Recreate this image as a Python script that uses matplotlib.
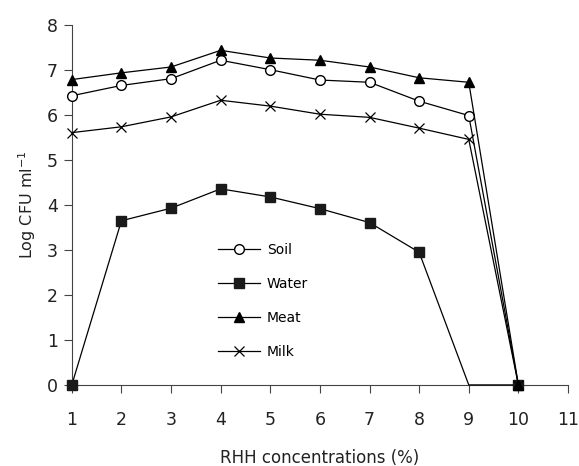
import matplotlib.pyplot as plt

x = [1, 2, 3, 4, 5, 6, 7, 8, 9, 10]
soil = [6.43, 6.66, 6.81, 7.22, 7.01, 6.78, 6.73, 6.31, 5.99, 0]
water = [0, 3.65, 3.93, 4.36, 4.18, 3.92, 3.61, 2.95, 0, 0]
meat = [6.79, 6.94, 7.07, 7.44, 7.27, 7.22, 7.07, 6.83, 6.73, 0]
milk = [5.61, 5.74, 5.96, 6.33, 6.20, 6.02, 5.95, 5.71, 5.46, 0]

plt.rcParams['font.family'] = 'DejaVu Sans'
fig = plt.figure(figsize=(5.79, 4.66), dpi=100)
ax = fig.add_axes([0.124, 0.174, 0.857, 0.772])

lw = 0.9
ax.plot(x, soil, color='black', lw=lw, marker='o', ms=7, mfc='white', mec='black', mew=1, label='Soil', clip_on=False, zorder=3)
ax.plot(x, water, color='black', lw=lw, marker='s', ms=6.5, mfc='#1a1a1a', mec='#1a1a1a', markevery=[0, 1, 2, 3, 4, 5, 6, 7, 9], label='Water', clip_on=False, zorder=3)
ax.plot(x, meat, color='black', lw=lw, marker='^', ms=7.5, mfc='black', mec='black', label='Meat', clip_on=False, zorder=3)
ax.plot(x, milk, color='black', lw=lw, marker='x', ms=7.5, mew=0.9, label='Milk', clip_on=False, zorder=3)

ax.set_xlim(1, 11)
ax.set_ylim(0, 8)
ax.set_xticks(range(1, 12))
ax.set_yticks(range(0, 9))
ax.spines['top'].set_visible(False)
ax.spines['right'].set_visible(False)
ax.spines['left'].set_color('#444444')
ax.spines['bottom'].set_color('#444444')
ax.tick_params(axis='both', direction='out', length=6, color='#444444', labelsize=12.5, labelcolor='#222222')
ax.tick_params(axis='x', pad=13)
ax.tick_params(axis='y', pad=4)

ax.set_xlabel('RHH concentrations (%)', fontsize=12, color='#222222', labelpad=14)
ax.set_ylabel('Log CFU ml$^{-1}$', fontsize=11.5, color='#222222', labelpad=6)

ax.legend(loc='upper left', bbox_to_anchor=(0.27, 0.43), frameon=False, fontsize=10,
          handlelength=3.0, labelspacing=1.45, handletextpad=0.5)

fig.savefig('out.png', dpi=100)
